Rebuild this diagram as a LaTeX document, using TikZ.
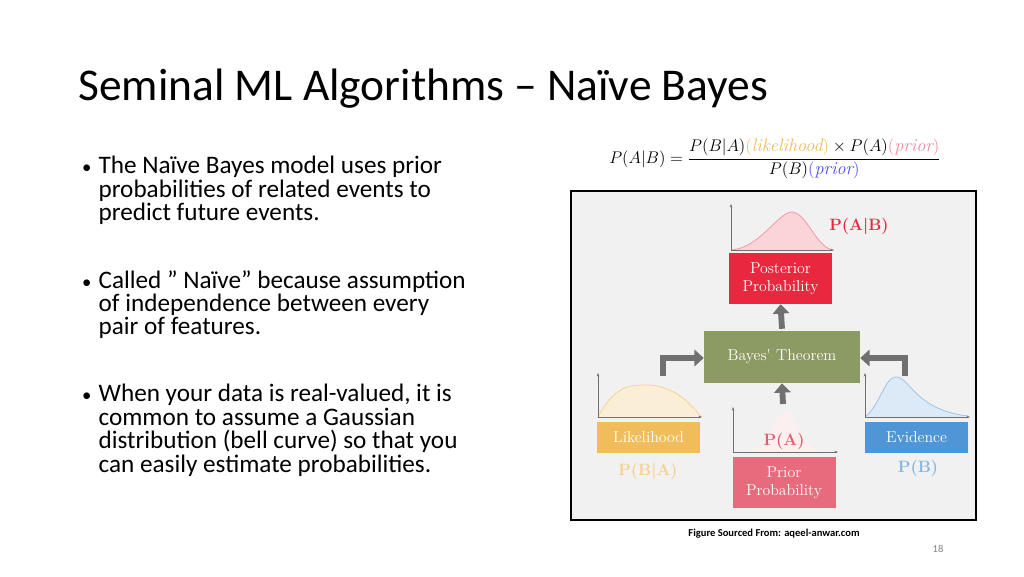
\documentclass[tikz,border=0pt]{standalone}
\usepackage{fontspec}
\setmainfont{Carlito}
\newfontfamily\lmr{Latin Modern Roman}
\usepackage{amsmath}
\usetikzlibrary{arrows.meta}
\definecolor{postc}{HTML}{E8283F}
\definecolor{priorc}{HTML}{E45B6E}
\definecolor{bayesc}{HTML}{8C9A64}
\definecolor{likec}{HTML}{F0BD5A}
\definecolor{evc}{HTML}{4F96D6}
\definecolor{bgc}{HTML}{F1F1F1}
\definecolor{arrc}{HTML}{707070}
\tikzset{
  box/.style={draw=none,minimum width=103*0.03cm,minimum height=#1*0.03cm,inner sep=0pt,text=white,align=center,font=\lmr\fontsize{13.5}{15.5}\selectfont},
  lab/.style={font=\lmr\bfseries\fontsize{14}{15}\selectfont},
  ax/.style={draw=arrc,line width=0.6pt,-{Stealth[length=3pt]}},
  bigarr/.style={draw=arrc,line width=5pt,-{Triangle[length=8pt,width=14pt]}},
  bullet/.style={anchor=north west,align=left,font=\fontsize{21.5}{20}\selectfont,inner sep=0pt},
}
\newcommand{\bul}{\makebox[14pt][l]{\fontsize{16}{16}\selectfont•}}
\newcommand{\ind}{\hspace*{14pt}}
\begin{document}
\begin{tikzpicture}[x=0.03cm,y=-0.03cm]
\useasboundingbox (0,0) rectangle (1024,576);
\fill[white] (0,0) rectangle (1024,576);
\node[anchor=base west,inner sep=0pt,font=\fontsize{38.8}{40}\selectfont] (title) at (78,100) {Seminal ML Algorithms – Naïve Bayes};
\node[bullet] (b1) at (82,156) {\bul The Naïve Bayes model uses prior\\\ind probabilities of related events to\\\ind predict future events.};
\node[bullet] (b2) at (82,270) {\bul Called ” Naïve” because assumption\\\ind of independence between every\\\ind pair of features.};
\node[bullet] (b3) at (82,384) {\bul When your data is real-valued, it is\\\ind common to assume a Gaussian\\\ind distribution (bell curve) so that you\\\ind can easily estimate probabilities.};
\node (formula) at (775,159) {\lmr\fontsize{15.5}{18}\selectfont$P(A|B)=\dfrac{P(B|A)\textcolor{likec}{(\textit{likelihood})}\times P(A)\textcolor{priorc!70}{(\textit{prior})}}{P(B)\textcolor{blue!70}{(\textit{prior})}}$};
% figure
\draw[line width=1.5pt,fill=bgc] (571,191) rectangle (976,520);
% curves
\fill[postc!20] (731,250) .. controls (760,248) and (778,212) .. (792,212) .. controls (806,212) and (815,245) .. (832,250) -- cycle;
\draw[postc!50,line width=0.6pt] (731,250) .. controls (760,248) and (778,212) .. (792,212) .. controls (806,212) and (815,245) .. (832,250);
\fill[likec!25] (598,417) .. controls (615,385) and (630,385) .. (647,385) .. controls (665,385) and (685,395) .. (701,417) -- cycle;
\draw[likec!70,line width=0.6pt] (598,417) .. controls (615,385) and (630,385) .. (647,385) .. controls (665,385) and (685,395) .. (701,417);
\fill[priorc!10] (750,452) .. controls (768,445) and (775,412) .. (785,412) .. controls (795,412) and (802,445) .. (820,452) -- cycle;
\fill[evc!20] (865,417) .. controls (880,405) and (885,377) .. (896,377) .. controls (910,377) and (915,410) .. (968,416) -- (968,417) -- cycle;
\draw[evc!60,line width=0.6pt] (865,417) .. controls (880,405) and (885,377) .. (896,377) .. controls (910,377) and (915,410) .. (968,416);
% axes
\coordinate (pa) at (731,250); \draw[ax] (pa) -- (731,204); \draw[ax] (pa) -- (834,250);
\coordinate (la) at (598,417); \draw[ax] (la) -- (598,373); \draw[ax] (la) -- (702,417);
\coordinate (ra) at (733,452); \draw[ax] (ra) -- (733,407); \draw[ax] (ra) -- (838,452);
\coordinate (ea) at (865,417); \draw[ax] (ea) -- (865,373); \draw[ax] (ea) -- (970,417);
% boxes
\node[box=51,fill=postc] (post) at (780.5,278.5) {Posterior\\Probability};
\node[box=52,fill=bayesc,minimum width=156*0.03cm] (bayes) at (782,357) {Bayes' Theorem};
\node[box=31,fill=likec] (like) at (648.5,437.5) {Likelihood};
\node[box=51,fill=priorc!90] (prior) at (784,482.5) {Prior\\Probability};
\node[box=31,fill=evc] (evid) at (916.5,437.5) {Evidence};
% labels
\node[lab,text=postc] (lpab) at (859,226) {P(A|B)};
\node[lab,text=likec!70] (lpba) at (648,471) {P(B|A)};
\node[lab,text=priorc] (lpa) at (784,441) {P(A)};
\node[lab,text=evc!70] (lpb) at (918,468) {P(B)};
% big arrows
\draw[bigarr] (bayes.north) ++(0,-2) -- (post.south);
\draw[bigarr] (783,404) -- (bayes.south);
\coordinate (le) at (663,376); \coordinate (re) at (905,376);
\draw[bigarr] (le) -- (663,358) -- (bayes.west|-0,358);
\draw[bigarr] (re) -- (905,358) -- (bayes.east|-0,358);
\node[font=\bfseries\fontsize{9}{10}\selectfont] (src) at (774,534) {Figure Sourced From: aqeel-anwar.com};
\node[font=\fontsize{9}{10}\selectfont,text=gray] (pg) at (938,549) {18};
\end{tikzpicture}
\end{document}
